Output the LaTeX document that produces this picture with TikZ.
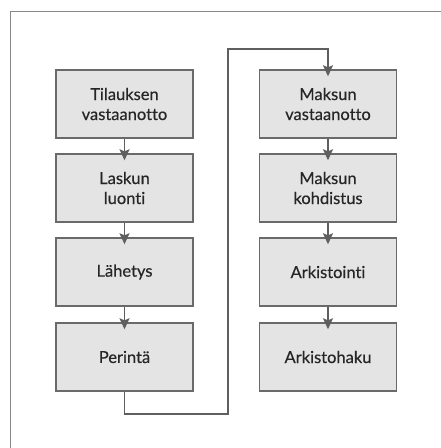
\documentclass[tikz,border=0pt]{standalone}
\usepackage{fontspec}
\setmainfont{Lato}[Ligatures=NoCommon]
\newfontfamily\boxfont{Lato}[Ligatures=NoCommon,FakeBold=0.4]
\usetikzlibrary{arrows.meta}
\definecolor{boxfill}{HTML}{E4E4E4}
\definecolor{edge}{HTML}{6A6A6A}
\definecolor{ink}{HTML}{262626}
\tikzset{
  stepbox/.style={draw=edge, line width=1.4pt, fill=boxfill, minimum width=137pt,
    minimum height=68pt, inner sep=0pt, align=center, text=ink,
    font=\boxfont\fontsize{16.5pt}{20pt}\selectfont},
  flow/.style={draw=edge!90!black, line width=1.4pt, shorten >=-7pt,
    -{Stealth[length=11pt,width=10pt,inset=2pt]}},
  frameline/.style={draw=edge!80, line width=1pt}
}
\begin{document}
\begin{tikzpicture}[x=1pt,y=1pt]
  \useasboundingbox[fill=white] (0,0) rectangle (441,448);
  % page frame (top and left edges)
  \draw[frameline] (441,436) -- (10,436) -- (10,0);
  % left column
  \node[stepbox] (a1) at (124.5,344) {Tilauksen\\vastaanotto};
  \node[stepbox] (a2) at (124.5,260) {Laskun\\luonti};
  \node[stepbox] (a3) at (124.5,176) {Lähetys};
  \node[stepbox] (a4) at (124.5,91) {Perintä};
  % right column
  \node[stepbox] (b1) at (328,344) {Maksun\\vastaanotto};
  \node[stepbox] (b2) at (328,260) {Maksun\\kohdistus};
  \node[stepbox] (b3) at (328,176) {Arkistointi};
  \node[stepbox] (b4) at (328,91) {Arkistohaku};
  % arrows
  \draw[flow] (a1) -- (a2);
  \draw[flow] (a2) -- (a3);
  \draw[flow] (a3) -- (a4);
  \draw[flow] (b1) -- (b2);
  \draw[flow] (b2) -- (b3);
  \draw[flow] (b3) -- (b4);
  % link between the columns
  \coordinate (lowturn) at (228,34);
  \coordinate (highturn) at (228,399);
  \draw[flow] (a4.south) |- (lowturn) -- (highturn) -| (b1.north);
\end{tikzpicture}
\end{document}
